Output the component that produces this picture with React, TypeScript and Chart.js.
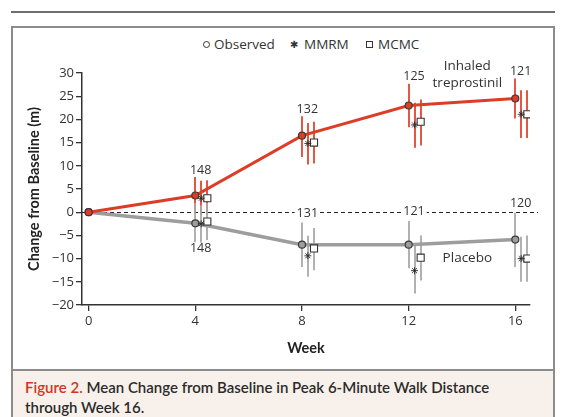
import React, { useEffect, useRef } from "react";
import { Chart, registerables } from "chart.js";

Chart.register(...registerables);

// ---------- data ----------
const weeks = [0, 4, 8, 12, 16];
const laterWeeks = [4, 8, 12, 16];
const yTickValues = [-20, -15, -10, -5, 0, 5, 10, 15, 20, 25, 30];

// Inhaled treprostinil
const trepObserved = [0, 3.6, 16.5, 23.0, 24.5];
const trepObservedLow = [null, 0.0, 11.9, 18.3, 20.2];
const trepObservedHigh = [null, 7.6, 20.7, 27.7, 28.8];
const trepMMRM = [3.0, 14.8, 18.8, 21.1];
const trepMMRMLow = [-0.6, 10.3, 13.9, 16.0];
const trepMMRMHigh = [6.8, 19.2, 23.6, 26.3];
const trepMCMC = [3.0, 15.0, 19.5, 21.1];
const trepMCMCLow = [-0.5, 10.5, 14.4, 16.0];
const trepMCMCHigh = [6.9, 19.5, 24.3, 26.3];
const trepN = ["148", "132", "125", "121"];

// Placebo
const placObserved = [0, -2.4, -7.0, -7.0, -5.9];
const placObservedLow = [null, -6.5, -11.8, -12.1, -11.8];
const placObservedHigh = [null, 2.0, -2.2, -1.9, -0.1];
const placMMRM = [-2.5, -9.4, -12.6, -10.0];
const placMMRMLow = [-6.6, -13.9, -17.5, -15.0];
const placMMRMHigh = [1.5, -5.1, -7.1, -5.3];
const placMCMC = [-2.0, -7.8, -9.8, -10.0];
const placMCMCLow = [-6.0, -12.5, -14.7, -15.0];
const placMCMCHigh = [2.0, -3.4, -5.0, -5.0];
const placN = ["148", "131", "121", "120"];

// ---------- placement / style (not data) ----------
const MMRM_SHIFT = 0.22;
const MCMC_SHIFT = 0.45;
const N_SHIFT = 0.2;
const trepNLabelY = [8.9, 22.2, 29.2, 30.3];
const placNLabelY = [-7.9, -0.3, 0.2, 1.8];
const seriesLabels = [
  { text: "Inhaled", x: 14.2, y: 31.4 },
  { text: "treprostinil", x: 14.2, y: 27.8 },
  { text: "Placebo", x: 14.2, y: -9.8 },
];

const RED = "#dc3d26";
const RED_BAR = "#e0452e";
const GRAY = "#9d9d9d";
const GRAY_BAR = "#a9a9a9";
const INK = "#333333";

const fmt = (v: number) => (v < 0 ? "\u2212" + Math.abs(v) : String(v));

const pts = (xs: number[], ys: number[], shift = 0) =>
  xs.map((x, i) => ({ x: x + shift, y: ys[i] }));

const errorBarPlugin = {
  id: "errorBars",
  beforeDatasetsDraw(chart: any) {
    const { ctx, scales } = chart;
    const ys = scales.y;
    // zero reference line
    const y0 = ys.getPixelForValue(0);
    ctx.save();
    ctx.strokeStyle = "#222";
    ctx.lineWidth = 1;
    ctx.setLineDash([4, 3]);
    ctx.beginPath();
    ctx.moveTo(chart.chartArea.left, Math.round(y0) + 0.5);
    ctx.lineTo(chart.chartArea.right + 8, Math.round(y0) + 0.5);
    ctx.stroke();
    ctx.setLineDash([]);
    chart.data.datasets.forEach((ds: any, i: number) => {
      if (!ds.errLow) return;
      const meta = chart.getDatasetMeta(i);
      ctx.strokeStyle = ds.errColor;
      ctx.lineWidth = 1.8;
      meta.data.forEach((el: any, j: number) => {
        const lo = ds.errLow[j];
        const hi = ds.errHigh[j];
        if (lo == null || hi == null) return;
        const x = Math.round(el.x);
        ctx.beginPath();
        ctx.moveTo(x, ys.getPixelForValue(lo));
        ctx.lineTo(x, ys.getPixelForValue(hi));
        ctx.stroke();
      });
    });
    ctx.restore();
  },
  afterDatasetsDraw(chart: any) {
    const { ctx, scales } = chart;
    const xs = scales.x;
    const ys = scales.y;
    ctx.save();
    ctx.font = "12.5px 'Open Sans'";
    ctx.textAlign = "center";
    ctx.textBaseline = "middle";
    const drawLabel = (text: string, x: number, y: number, bg: boolean) => {
      const px = xs.getPixelForValue(x);
      const py = ys.getPixelForValue(y);
      if (bg) {
        const w = ctx.measureText(text).width;
        ctx.fillStyle = "#ffffff";
        ctx.fillRect(px - w / 2 - 2, py - 6, w + 4, 12);
      }
      ctx.fillStyle = INK;
      ctx.fillText(text, px, py);
    };
    laterWeeks.forEach((w, i) => {
      drawLabel(trepN[i], w + N_SHIFT, trepNLabelY[i], true);
      drawLabel(placN[i], w + N_SHIFT, placNLabelY[i], true);
    });
    ctx.font = "13.5px 'Open Sans'";
    seriesLabels.forEach((l) => drawLabel(l.text, l.x, l.y, false));
    ctx.restore();
  },
};

export default function App() {
  const canvasRef = useRef<HTMLCanvasElement | null>(null);

  useEffect(() => {
    const canvas = canvasRef.current;
    if (!canvas) return;
    const markerCommon = {
      showLine: false,
    };
    const starStyle = {
      pointStyle: "star",
      pointRadius: 3.5,
      pointBorderColor: "#2a2a2a",
      pointBackgroundColor: "#2a2a2a",
      pointBorderWidth: 0.9,
    };
    const squareStyle = {
      pointStyle: "rect",
      pointRadius: 5,
      pointBorderColor: "#333",
      pointBackgroundColor: "#fff",
      pointBorderWidth: 1.1,
    };
    const chart = new Chart(canvas, {
      type: "line",
      data: {
        datasets: [
          {
            label: "Treprostinil MMRM",
            data: pts(laterWeeks, trepMMRM, MMRM_SHIFT),
            errLow: trepMMRMLow,
            errHigh: trepMMRMHigh,
            errColor: RED_BAR,
            ...starStyle,
            ...markerCommon,
          } as any,
          {
            label: "Treprostinil MCMC",
            data: pts(laterWeeks, trepMCMC, MCMC_SHIFT),
            errLow: trepMCMCLow,
            errHigh: trepMCMCHigh,
            errColor: RED_BAR,
            ...squareStyle,
            ...markerCommon,
          } as any,
          {
            label: "Placebo MMRM",
            data: pts(laterWeeks, placMMRM, MMRM_SHIFT),
            errLow: placMMRMLow,
            errHigh: placMMRMHigh,
            errColor: GRAY_BAR,
            ...starStyle,
            ...markerCommon,
          } as any,
          {
            label: "Placebo MCMC",
            data: pts(laterWeeks, placMCMC, MCMC_SHIFT),
            errLow: placMCMCLow,
            errHigh: placMCMCHigh,
            errColor: GRAY_BAR,
            ...squareStyle,
            ...markerCommon,
          } as any,
          {
            label: "Inhaled treprostinil",
            data: pts(weeks, trepObserved),
            errLow: trepObservedLow,
            errHigh: trepObservedHigh,
            errColor: RED_BAR,
            borderColor: RED,
            borderWidth: 3,
            pointStyle: "circle",
            pointRadius: 3.5,
            pointBorderColor: "#3a3a3a",
            pointBackgroundColor: RED,
            pointBorderWidth: 1.2,
          } as any,
          {
            label: "Placebo",
            data: pts(weeks, placObserved),
            errLow: placObservedLow,
            errHigh: placObservedHigh,
            errColor: GRAY_BAR,
            borderColor: GRAY,
            borderWidth: 3.5,
            pointStyle: "circle",
            pointRadius: 3.5,
            pointBorderColor: "#3a3a3a",
            pointBackgroundColor: GRAY,
            pointBorderWidth: 1.2,
          } as any,
        ],
      },
      options: {
        animation: false,
        responsive: false,
        maintainAspectRatio: false,
        layout: { padding: { left: 14, right: 34, top: 73, bottom: 56 } },
        plugins: { legend: { display: false }, tooltip: { enabled: false } },
        scales: {
          x: {
            type: "linear",
            min: -0.25,
            max: 16.55,
            afterBuildTicks: (s: any) => {
              s.ticks = weeks.map((v) => ({ value: v }));
            },
            afterFit: (s: any) => {
              s.height = 56;
            },
            grid: {
              drawOnChartArea: false,
              drawTicks: true,
              tickLength: 6,
              color: INK,
              lineWidth: 1.3,
            },
            border: { color: INK, width: 1.5 },
            ticks: {
              padding: 2,
              color: INK,
              font: { family: "'Open Sans'", size: 13 },
              callback: (v: any) => fmt(Number(v)),
            },
            title: {
              display: true,
              text: "Week",
              color: "#222",
              font: { family: "Lato", size: 14.5, weight: "bold" },
              padding: { top: 0, bottom: 4 },
            },
          },
          y: {
            type: "linear",
            min: -20,
            max: 30,
            afterBuildTicks: (s: any) => {
              s.ticks = yTickValues.map((v) => ({ value: v }));
            },
            afterFit: (s: any) => {
              s.width = 68;
            },
            grid: {
              drawOnChartArea: false,
              drawTicks: true,
              tickLength: 6,
              color: INK,
              lineWidth: 1.3,
            },
            border: { color: INK, width: 1.5 },
            ticks: {
              padding: 2,
              color: INK,
              font: { family: "'Open Sans'", size: 13 },
              callback: (v: any) => fmt(Number(v)),
            },
            title: {
              display: true,
              text: "Change from Baseline (m)",
              color: "#222",
              font: { family: "Lato", size: 14.5, weight: "bold" },
              padding: { top: 12, bottom: 0 },
            },
          },
        },
      } as any,
      plugins: [errorBarPlugin],
    });
    return () => chart.destroy();
  }, []);

  const legendText: React.CSSProperties = {
    position: "absolute",
    top: 35,
    fontFamily: "'Open Sans'",
    fontSize: 13.5,
    lineHeight: "18px",
    color: INK,
    whiteSpace: "nowrap",
  };

  return (
    <div
      style={{
        position: "absolute",
        left: 0,
        top: 0,
        width: 564,
        height: 417,
        background: "#ffffff",
        overflow: "hidden",
      }}
    >
      {/* top rule */}
      <div style={{ position: "absolute", left: 11, top: 11, width: 544, height: 2, background: "#6e6e6e" }} />
      {/* figure frame */}
      <div
        style={{
          position: "absolute",
          left: 11,
          top: 26,
          width: 540,
          height: 420,
          border: "2px solid #8c8c8c",
          boxSizing: "content-box",
        }}
      />
      {/* caption band */}
      <div
        style={{
          position: "absolute",
          left: 13,
          top: 369,
          width: 540,
          height: 60,
          background: "#f8f1eb",
          borderTop: "2px solid #8c8c8c",
        }}
      />
      <div
        style={{
          position: "absolute",
          left: 25,
          top: 377,
          width: 525,
          fontFamily: "Lato",
          fontWeight: 600,
          fontSize: 15,
          lineHeight: "20px",
          color: "#2b2b2b",
          whiteSpace: "nowrap",
        }}
      >
        <span style={{ color: "#d6341c" }}>Figure 2.</span> Mean Change from Baseline in Peak 6-Minute Walk Distance
        <br />
        through Week 16.
      </div>

      {/* legend */}
      <div
        style={{
          position: "absolute",
          left: 203,
          top: 41,
          width: 5,
          height: 5,
          borderRadius: "50%",
          border: "1px solid #333",
        }}
      />
      <div style={{ ...legendText, left: 214 }}>Observed</div>
      <div style={{ ...legendText, left: 290, top: 36, fontSize: 10, fontFamily: "DejaVu Sans" }}>{"\u2731"}</div>
      <div style={{ ...legendText, left: 304 }}>MMRM</div>
      <div
        style={{
          position: "absolute",
          left: 366,
          top: 41,
          width: 5,
          height: 5,
          border: "1px solid #333",
        }}
      />
      <div style={{ ...legendText, left: 378 }}>MCMC</div>

      <canvas
        ref={canvasRef}
        width={564}
        height={417}
        style={{ position: "absolute", left: 0, top: 0, width: 564, height: 417 }}
      />
    </div>
  );
}
